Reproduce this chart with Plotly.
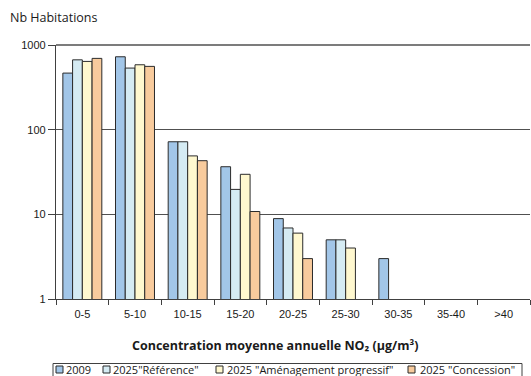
import plotly.graph_objects as go

categories = ["0-5", "5-10", "10-15", "15-20", "20-25", "25-30", "30-35", "35-40", ">40"]
series_names = ["2009", "2025\"Référence\"", "2025 \"Aménagement progressif\"", "2025 \"Concession\""]
v2009 = [466, 726, 72, 36.5, 8.9, 5, 3, None, None]
vref = [668, 534, 72, 19.7, 6.9, 5, None, None, None]
vamen = [640, 584, 49, 29.7, 6, 4, None, None, None]
vconc = [695, 559, 43, 10.8, 3, None, None, None, None]
series_values = [v2009, vref, vamen, vconc]
colors = ["#A2C6E8", "#D5EBF3", "#FFF8CF", "#F8CB9D"]
y_ticks = [1, 10, 100, 1000]
y_ticklabels = ["1", "10", "100", "1000"]
y_range_log = [0, 3]

W, H = 531, 376
L, R, T, B = 56, 1, 45, 77
PW, PH = W - L - R, H - T - B

def px(x):
    return (x - L) / PW

def py(y):
    return (H - B - y) / PH

fig = go.Figure()
for name, vals, col in zip(series_names, series_values, colors):
    fig.add_trace(go.Bar(
        x=categories, y=vals, name=name,
        marker=dict(color=col, line=dict(color="#2b2b2b", width=1)),
        showlegend=False,
    ))

GRID = "#505050"
TICKFONT = dict(family="Liberation Sans, Arial, sans-serif", size=11, color="#1a1a1a")
fig.update_layout(
    width=W, height=H,
    margin=dict(l=L, r=R, t=T, b=B, autoexpand=False),
    paper_bgcolor="white", plot_bgcolor="white",
    barmode="group", bargap=0.26, bargroupgap=0,
    showlegend=False,
    font=TICKFONT,
)
fig.update_yaxes(
    type="log", range=y_range_log, tickvals=y_ticks, ticktext=y_ticklabels,
    showgrid=True, gridcolor=GRID, gridwidth=1.3,
    showline=True, linecolor="#404040", linewidth=1.2,
    ticks="outside", ticklen=7, tickcolor="#404040", tickwidth=1,
    zeroline=False, tickfont=TICKFONT,
)
fig.update_xaxes(
    type="category", showgrid=False,
    showline=True, linecolor="#404040", linewidth=1.2,
    ticks="outside", tickson="boundaries", ticklen=5, tickcolor="#404040",
    ticklabelstandoff=5,
    tickfont=TICKFONT,
)

# top gridline (at the upper edge of the value axis, 1000)
fig.add_shape(type="line", xref="paper", yref="paper", x0=0, x1=1, y0=1, y1=1,
              line=dict(color=GRID, width=1.3), layer="above")

# titles
fig.add_annotation(text="Nb Habitations", xref="paper", yref="paper",
                   x=px(8), y=py(18), xanchor="left", yanchor="middle", showarrow=False,
                   font=dict(family="Open Sans, sans-serif", size=12.5, color="#1a1a1a"))
fig.add_annotation(text="<b>Concentration moyenne annuelle NO₂ (µg/m³)</b>", xref="paper", yref="paper",
                   x=px(275), y=py(345), xanchor="center", yanchor="middle", showarrow=False,
                   font=dict(family="Open Sans, sans-serif", size=12.5, color="#1a1a1a"))

# legend (drawn with shapes + text)
fig.add_shape(type="rect", xref="paper", yref="paper",
              x0=px(53), x1=px(522), y0=py(363.5), y1=py(385),
              line=dict(color="#404040", width=1), fillcolor="rgba(0,0,0,0)")
leg_marker_x = [56, 103, 216, 408]
leg_text_x = [64, 111, 225, 418]
for name, col, mx, tx in zip(series_names, colors, leg_marker_x, leg_text_x):
    fig.add_shape(type="rect", xref="paper", yref="paper",
                  x0=px(mx), x1=px(mx + 7), y0=py(366), y1=py(373),
                  line=dict(color="#2b2b2b", width=1), fillcolor=col)
    fig.add_annotation(text=name, xref="paper", yref="paper",
                       x=px(tx), y=py(369.5), xanchor="left", yanchor="middle", showarrow=False,
                       font=dict(family="Open Sans, sans-serif", size=11, color="#1a1a1a"))

fig.write_html("out.html")
